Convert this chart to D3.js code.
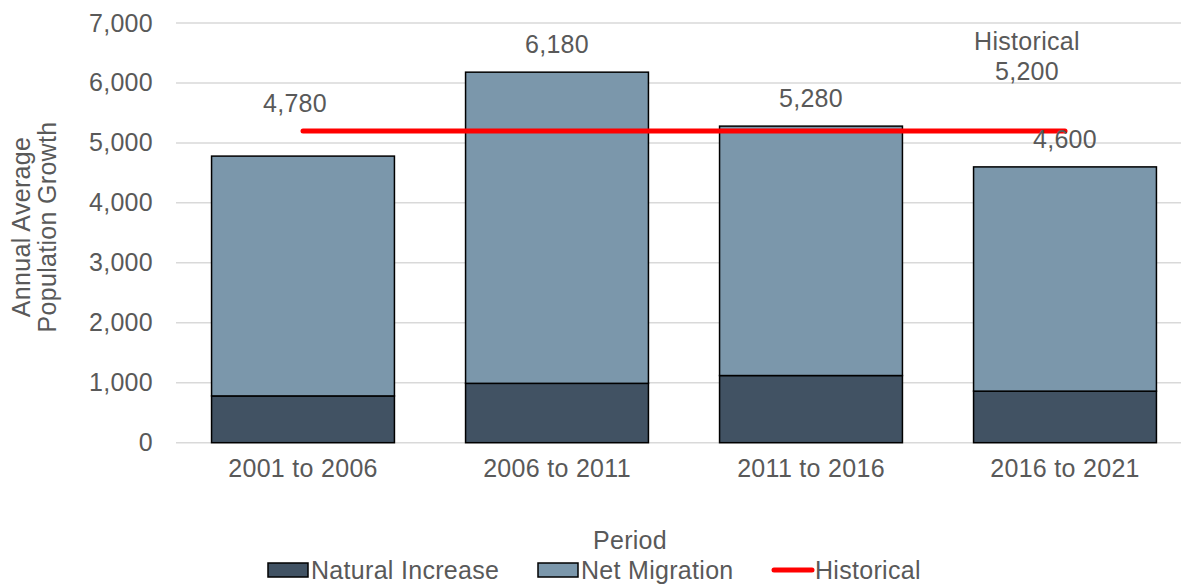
<!DOCTYPE html>
<html>
<head>
<meta charset="utf-8">
<title>Annual Average Population Growth</title>
<style>
body { margin: 0; background: #fff; }
text {
  font-family: "Liberation Sans", Arial, sans-serif;
  fill: #595959;
  letter-spacing: 0.3px;
}
.grid line { stroke: #d9d9d9; stroke-width: 1.5px; }
.bar { stroke: #000; stroke-width: 1.5px; }
</style>
</head>
<body>
<script src="https://cdn.jsdelivr.net/npm/d3@7"></script>
<script>
var periods = ["2001 to 2006", "2006 to 2011", "2011 to 2016", "2016 to 2021"];
var naturalIncrease = [780, 990, 1120, 860];
var netMigration = [4000, 5190, 4160, 3740];
var historical = 5200;
var yTicks = [0, 1000, 2000, 3000, 4000, 5000, 6000, 7000];

var width = 1181, height = 584;
var fontSize = "25px";
var colors = { natural: "#415263", migration: "#7b97ab", historical: "#ff0000" };

var svg = d3.select("body").append("svg")
  .attr("width", width)
  .attr("height", height);

var x = d3.scaleBand()
  .domain(periods)
  .range([176, 1192])
  .paddingInner(0.28)
  .paddingOuter(0.14);

var y = d3.scaleLinear()
  .domain([0, 7000])
  .range([442.7, 23]);

var fmt = d3.format(",");

// gridlines
svg.append("g")
  .attr("class", "grid")
  .selectAll("line")
  .data(yTicks)
  .enter().append("line")
  .attr("x1", 176)
  .attr("x2", width)
  .attr("y1", function(d) { return y(d); })
  .attr("y2", function(d) { return y(d); });

// y axis labels
var yAxis = svg.append("g")
  .attr("transform", "translate(153,0)")
  .call(d3.axisLeft(y).tickValues(yTicks).tickFormat(fmt).tickSize(0).tickPadding(0));
yAxis.select(".domain").remove();
yAxis.selectAll("text")
  .attr("font-size", fontSize)
  .attr("font-family", null)
  .attr("fill", null);

// x axis labels
var xAxis = svg.append("g")
  .attr("transform", "translate(0,456)")
  .call(d3.axisBottom(x).tickSize(0).tickPadding(0));
xAxis.select(".domain").remove();
xAxis.selectAll("text")
  .attr("font-size", fontSize)
  .attr("dy", "0.85em")
  .attr("font-family", null)
  .attr("fill", null);

// stacked bars
var rows = periods.map(function(p, i) {
  return { period: p, natural: naturalIncrease[i], migration: netMigration[i] };
});
var stack = d3.stack().keys(["natural", "migration"])(rows);

svg.append("g")
  .selectAll("g")
  .data(stack)
  .enter().append("g")
  .attr("fill", function(d) { return colors[d.key]; })
  .selectAll("rect")
  .data(function(d) { return d; })
  .enter().append("rect")
  .attr("class", "bar")
  .attr("x", function(d) { return x(d.data.period); })
  .attr("width", x.bandwidth())
  .attr("y", function(d) { return y(d[1]); })
  .attr("height", function(d) { return y(d[0]) - y(d[1]); });

// historical line
var first = x(periods[0]) + x.bandwidth() / 2;
var last = x(periods[periods.length - 1]) + x.bandwidth() / 2;
svg.append("line")
  .attr("x1", first)
  .attr("x2", last)
  .attr("y1", y(historical))
  .attr("y2", y(historical))
  .attr("stroke", colors.historical)
  .attr("stroke-width", 5)
  .attr("stroke-linecap", "round");

// total labels
svg.append("g")
  .selectAll("text")
  .data(rows)
  .enter().append("text")
  .attr("x", function(d, i) {
    // first label was nudged left a little in the original
    return x(d.period) + x.bandwidth() / 2 - (i === 0 ? 8 : 0);
  })
  .attr("y", function(d, i) {
    var t = d.natural + d.migration;
    // first label sits above the historical line
    if (i === 0) t = Math.max(t, historical);
    return y(t) - 28;
  })
  .attr("dy", "0.35em")
  .attr("text-anchor", "middle")
  .attr("font-size", fontSize)
  .text(function(d) { return fmt(d.natural + d.migration); });

// historical label
var hl = svg.append("text")
  .attr("x", last - 38)
  .attr("y", y(historical) - 90)
  .attr("text-anchor", "middle")
  .attr("font-size", fontSize);
hl.append("tspan").attr("x", last - 38).attr("dy", "0.35em").text("Historical");
hl.append("tspan").attr("x", last - 38).attr("dy", "1.2em").text(fmt(historical));

// y axis title
var yt = svg.append("text")
  .attr("transform", "translate(35,227) rotate(-90)")
  .attr("text-anchor", "middle")
  .attr("font-size", fontSize);
yt.append("tspan").attr("x", 0).attr("dy", "-0.2em").text("Annual Average");
yt.append("tspan").attr("x", 0).attr("dy", "1.05em").text("Population Growth");

// x axis title
svg.append("text")
  .attr("x", 630)
  .attr("y", 549)
  .attr("text-anchor", "middle")
  .attr("font-size", fontSize)
  .text("Period");

// legend
var legendItems = [
  { name: "Natural Increase", type: "rect", color: colors.natural, x: 268 },
  { name: "Net Migration", type: "rect", color: colors.migration, x: 538 },
  { name: "Historical", type: "line", color: colors.historical, x: 772 }
];
var legend = svg.append("g").attr("transform", "translate(0,570)");
var li = legend.selectAll("g")
  .data(legendItems)
  .enter().append("g")
  .attr("transform", function(d) { return "translate(" + d.x + ",0)"; });
li.filter(function(d) { return d.type === "rect"; })
  .append("rect")
  .attr("x", 0).attr("y", -7)
  .attr("width", 40).attr("height", 14)
  .attr("fill", function(d) { return d.color; })
  .attr("stroke", "#000").attr("stroke-width", 1.5);
li.filter(function(d) { return d.type === "line"; })
  .append("line")
  .attr("x1", 2).attr("x2", 40)
  .attr("stroke", function(d) { return d.color; })
  .attr("stroke-width", 5)
  .attr("stroke-linecap", "round");
li.append("text")
  .attr("x", 43)
  .attr("dy", "0.36em")
  .attr("font-size", fontSize)
  .text(function(d) { return d.name; });
</script>
</body>
</html>
